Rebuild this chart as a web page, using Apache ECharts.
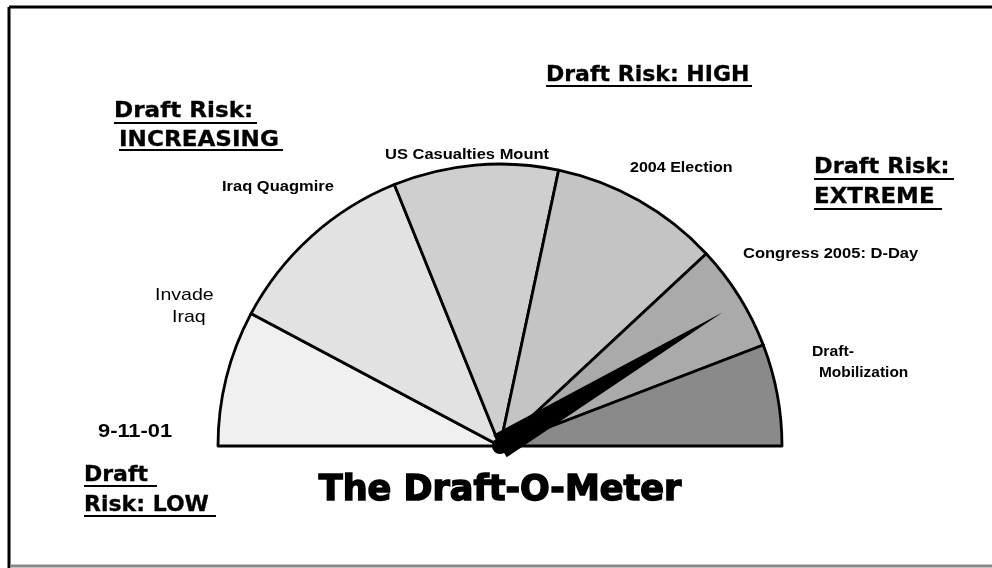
<!DOCTYPE html>
<html>
<head>
<meta charset="utf-8">
<script src="https://cdn.jsdelivr.net/npm/echarts@6/dist/echarts.min.js"></script>
<style>html,body{margin:0;padding:0;background:#fff}#c{width:992px;height:568px}</style>
</head>
<body>
<div id="c"></div>
<script>
// Sectors of the Draft-O-Meter (angular span in degrees, sum = 180)
const phases = ['Invade Iraq', 'Iraq Quagmire', 'US Casualties Mount', '2004 Election', 'Congress 2005: D-Day', 'Draft-Mobilization'];
const spans = [28, 40, 34, 35, 22, 21];
const shades = ['#f0f0f0', '#e2e2e2', '#cfcfcf', '#c4c4c4', '#aaaaaa', '#8a8a8a'];
const needleValue = 149; // position of the needle on the 0-180 dial
const dialMax = 180;

const chart = echarts.init(document.getElementById('c'));
const CX = 500, CY = 446, R = 282;
const heavy = '"DejaVu Sans", sans-serif';
const plain = '"Liberation Sans", Arial, sans-serif';

const pieData = phases.map((n, i) => ({ name: n, value: spans[i], itemStyle: { color: shades[i] } }));
pieData.push({ name: 'hidden', value: dialMax, itemStyle: { color: 'transparent', borderWidth: 0 }, label: { show: false } });

function txt(x, y, t, size, weight, family, align, sx, stroke) {
  return { type: 'text', x: x, y: y, scaleX: sx || 1, silent: true, z: 10,
    style: { text: t, fontSize: size, fontWeight: weight, fontFamily: family, fill: '#000',
      stroke: stroke ? '#000' : null, lineWidth: stroke || 0,
      textAlign: align || 'left', textVerticalAlign: 'middle' } };
}
function uline(x1, x2, y) {
  return { type: 'line', silent: true, shape: { x1: x1, y1: y, x2: x2, y2: y }, style: { stroke: '#000', lineWidth: 2 } };
}

chart.setOption({
  animation: false,
  backgroundColor: '#fff',
  series: [
    {
      type: 'pie', center: [CX, CY], radius: [0, R], startAngle: 180, clockwise: true, z: 1,
      label: { show: false }, labelLine: { show: false }, silent: true,
      itemStyle: { borderColor: '#000', borderWidth: 2.8 },
      data: pieData
    },
    {
      type: 'gauge', center: [CX, CY], radius: R, startAngle: 180, endAngle: 0, min: 0, max: dialMax, z: 5,
      axisLine: { show: false }, axisTick: { show: false }, splitLine: { show: false }, axisLabel: { show: false },
      title: { show: false }, detail: { show: false },
      itemStyle: { color: '#000' },
      pointer: { show: true, icon: 'triangle', length: '92%', width: 26, offsetCenter: [0, 0], itemStyle: { color: '#000' } },
      anchor: { show: true, size: 16, itemStyle: { color: '#000' } },
      data: [{ value: needleValue, itemStyle: { color: '#000' } }]
    }
  ],
  graphic: [
    { type: 'line', silent: true, shape: { x1: 9, y1: 7, x2: 992, y2: 7 }, style: { stroke: '#000', lineWidth: 3 } },
    { type: 'line', silent: true, shape: { x1: 9, y1: 7, x2: 9, y2: 568 }, style: { stroke: '#000', lineWidth: 3 } },
    { type: 'line', silent: true, shape: { x1: 10, y1: 566, x2: 992, y2: 566 }, style: { stroke: '#888', lineWidth: 3 } },

    txt(114, 111, 'Draft Risk:', 22, 'bold', heavy, 'left', 1.05, 0.3),
    uline(114, 257, 123),
    txt(119, 140, 'INCREASING', 22, 'bold', heavy, 'left', 1.05, 0.3),
    uline(119, 283, 150),

    txt(546, 75, 'Draft Risk: HIGH', 22, 'bold', heavy, 'left', 1, 0.3),
    uline(546, 752, 86),

    txt(814, 167, 'Draft Risk:', 22, 'bold', heavy, 'left', 1.02, 0.3),
    uline(814, 954, 179),
    txt(814, 197, 'EXTREME', 22, 'bold', heavy, 'left', 1.04, 0.3),
    uline(814, 942, 209),

    txt(84, 475, 'Draft', 22, 'bold', heavy, 'left', 1, 0.3),
    uline(84, 157, 486),
    txt(84, 505, 'Risk: LOW', 22, 'bold', heavy, 'left', 1, 0.3),
    uline(84, 216, 516),

    txt(500, 491, 'The Draft-O-Meter', 35, 'bold', heavy, 'center', 1, 1.5),

    txt(98, 432, '9-11-01', 19, 'bold', plain, 'left', 1.15),
    txt(155, 295, 'Invade', 17, 'normal', plain, 'left', 1.15),
    txt(172, 317, 'Iraq', 17, 'normal', plain, 'left', 1.15),
    txt(222, 187, 'Iraq Quagmire', 15, 'bold', plain, 'left', 1.1),
    txt(385, 155, 'US Casualties Mount', 15, 'bold', plain, 'left', 1.1),
    txt(630, 168, '2004 Election', 15, 'bold', plain, 'left', 1.07),
    txt(743, 254, 'Congress 2005: D-Day', 15, 'bold', plain, 'left', 1.1),
    txt(812, 352, 'Draft-', 15, 'bold', plain, 'left', 1.05),
    txt(819, 373, 'Mobilization', 15, 'bold', plain, 'left', 1.03)
  ]
});
</script>
</body>
</html>
